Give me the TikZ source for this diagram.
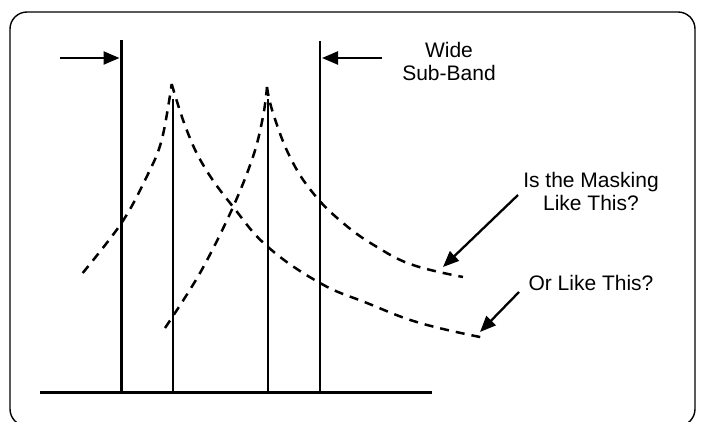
\documentclass[tikz,border=0pt]{standalone}
\usepackage{fontspec}
\setmainfont{Liberation Sans}
\usetikzlibrary{arrows.meta}

\tikzset{
  band/.style={line width=2.4pt},
  masking/.style={line width=2.5pt, dash pattern=on 9pt off 7pt},
  pointer/.style={line width=2.3pt, -{Triangle[length=16pt,width=13pt]}},
  label/.style={font=\fontsize{21}{23}\selectfont, align=center, inner sep=0pt}
}

\begin{document}
\begin{tikzpicture}[x=1pt, y=-1pt]

\useasboundingbox (0,0) rectangle (703,422);

% frame
\draw[line width=1.4pt, rounded corners=17pt] (10,12) rectangle (695,426);

% axis
\draw[line width=3pt] (40,392) -- (432,392);

% band edges and tones
\coordinate (lefttop) at (121.5,40);
\coordinate (righttop) at (320,41);
\draw[band] (lefttop) -- (121.5,392);
\draw[band] (righttop) -- (320,392);
\draw[band] (172.7,99) -- (172.7,392);
\draw[band] (268,99) -- (268,392);

% masking curves
\draw[masking] plot[smooth, tension=0.6] coordinates
  {(82.7,273) (121.7,222.7) (146.7,176.7) (161.7,140) (171.7,84)};
\draw[masking] plot[smooth, tension=0.7] coordinates
  {(171.7,84) (186.7,130) (205,168) (233,206.7) (268,247) (320,283) (367,303) (420,323) (485,338)};
\draw[masking] plot[smooth, tension=0.6] coordinates
  {(165,328) (200,273) (231.7,210) (253,156.7) (263,116.7) (267,87)};
\draw[masking] plot[smooth, tension=0.7] coordinates
  {(267,87) (273,113) (290,157) (313,193) (343,223) (377,247) (413,265) (463,277)};

% labels
\node[label] (wide) at (449,61) {Wide\\Sub-Band};
\node[label] (like) at (591,191.5) {Is the Masking\\Like This?};
\node[label] (or) at (591,283) {Or Like This?};

% pointers
\coordinate (leftfrom) at (60,58);
\coordinate (leftto) at (119.5,58);
\coordinate (rightfrom) at (382,58);
\coordinate (rightto) at (322,58);
\coordinate (likefrom) at (518,195);
\coordinate (liketo) at (443,267);
\coordinate (orfrom) at (519,292);
\coordinate (orto) at (480,332);
\draw[pointer] (leftfrom) -- (leftto);
\draw[pointer] (rightfrom) -- (rightto);
\draw[pointer] (likefrom) -- (liketo);
\draw[pointer] (orfrom) -- (orto);

\end{tikzpicture}
\end{document}
